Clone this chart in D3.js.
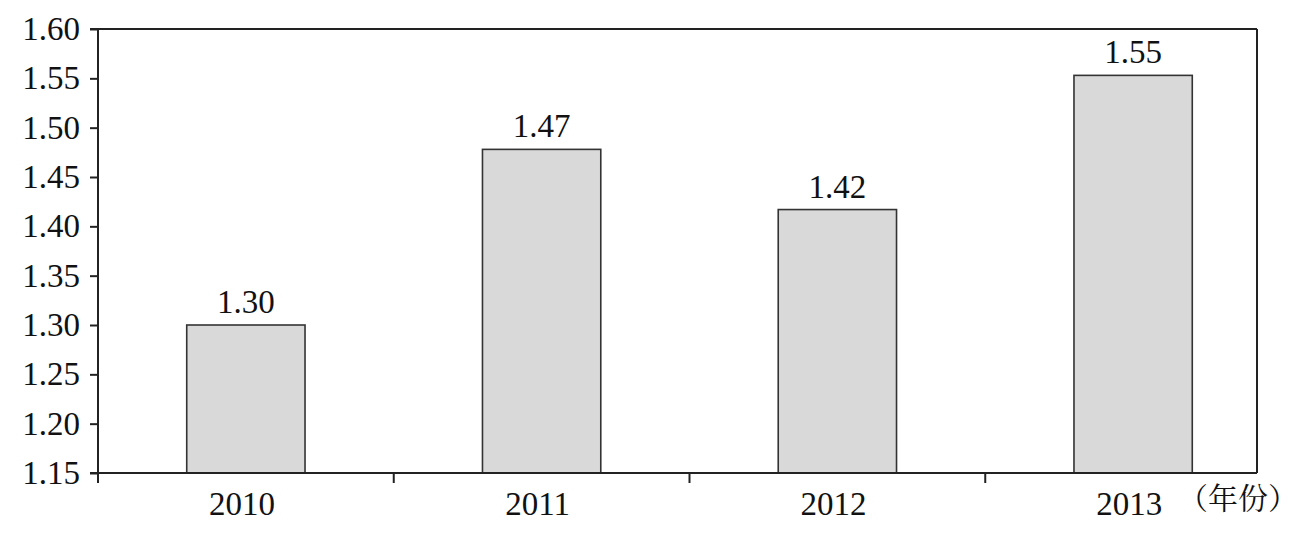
<!DOCTYPE html>
<html><head><meta charset="utf-8">
<script src="https://cdn.jsdelivr.net/npm/d3@7"></script>
<style>html,body{margin:0;padding:0;background:#fff;}svg{display:block;}</style>
</head><body>
<svg id="c" width="1302" height="543"></svg>
<script>
const categories = ["2010", "2011", "2012", "2013"];
const values = [1.30, 1.478, 1.417, 1.553];
const valueLabels = ["1.30", "1.47", "1.42", "1.55"];
const yTicks = [1.15, 1.20, 1.25, 1.30, 1.35, 1.40, 1.45, 1.50, 1.55, 1.60];
const xUnit = "（年份）";

(function () {
const svg = d3.select("#c");
const mL = 98, mR = 1257, mT = 29, mB = 473;
const font = "'Liberation Serif', 'Times New Roman', serif";
const ink = "#222";
const fs = 33;

const y = d3.scaleLinear().domain([1.15, 1.60]).range([mB, mT]);
const x = d3.scaleBand().domain(categories).range([mL, 1281]).paddingInner(0.6).paddingOuter(0.3);

// bars
svg.append("g").selectAll("rect").data(values).join("rect")
  .attr("x", (d, i) => x(categories[i]))
  .attr("width", x.bandwidth())
  .attr("y", d => y(d))
  .attr("height", d => mB - y(d))
  .attr("fill", "#d9d9d9")
  .attr("stroke", "#333")
  .attr("stroke-width", 1.6);

// value labels
svg.append("g").selectAll("text").data(values).join("text")
  .attr("x", (d, i) => x(categories[i]) + x.bandwidth() / 2)
  .attr("y", d => y(d) - 12)
  .attr("text-anchor", "middle")
  .attr("font-family", font).attr("font-size", fs).attr("fill", "#111")
  .text((d, i) => valueLabels[i]);

// y axis
const ya = svg.append("g").attr("transform", `translate(${mL},0)`)
  .call(d3.axisLeft(y).tickValues(yTicks).tickFormat(d3.format(".2f")).tickSize(8).tickPadding(10));
ya.select(".domain").remove();
ya.selectAll("line").attr("stroke", ink).attr("stroke-width", 2);
ya.selectAll("text").attr("font-family", font).attr("font-size", fs).attr("fill", "#111");

// frame lines
svg.append("line").attr("x1", mL).attr("x2", mL).attr("y1", mT).attr("y2", mB + 10)
  .attr("stroke", ink).attr("stroke-width", 2);
svg.append("line").attr("x1", mL - 8).attr("x2", mR).attr("y1", mT).attr("y2", mT)
  .attr("stroke", ink).attr("stroke-width", 2);
svg.append("line").attr("x1", mL - 8).attr("x2", mR).attr("y1", mB).attr("y2", mB)
  .attr("stroke", ink).attr("stroke-width", 2);
svg.append("line").attr("x1", mR).attr("x2", mR).attr("y1", mT).attr("y2", mB)
  .attr("stroke", ink).attr("stroke-width", 2);

// x ticks at band boundaries
const step = x.step();
const bounds = categories.slice(1).map(c => x(c) - x.paddingInner() * step / 2);
svg.append("g").selectAll("line").data(bounds).join("line")
  .attr("x1", d => d).attr("x2", d => d).attr("y1", mB).attr("y2", mB + 10)
  .attr("stroke", ink).attr("stroke-width", 2);

// x labels
svg.append("g").selectAll("text").data(categories).join("text")
  .attr("x", d => x(d) + x.bandwidth() / 2 - 4)
  .attr("y", 515)
  .attr("text-anchor", "middle")
  .attr("font-family", font).attr("font-size", fs).attr("fill", "#111")
  .text(d => d);

svg.append("text").attr("x", 1178).attr("y", 509)
  .attr("font-family", "'Noto Serif CJK SC', 'Noto Sans CJK SC', serif").attr("font-size", 30).attr("fill", "#111")
  .text(xUnit);
})();
</script>
</body></html>
